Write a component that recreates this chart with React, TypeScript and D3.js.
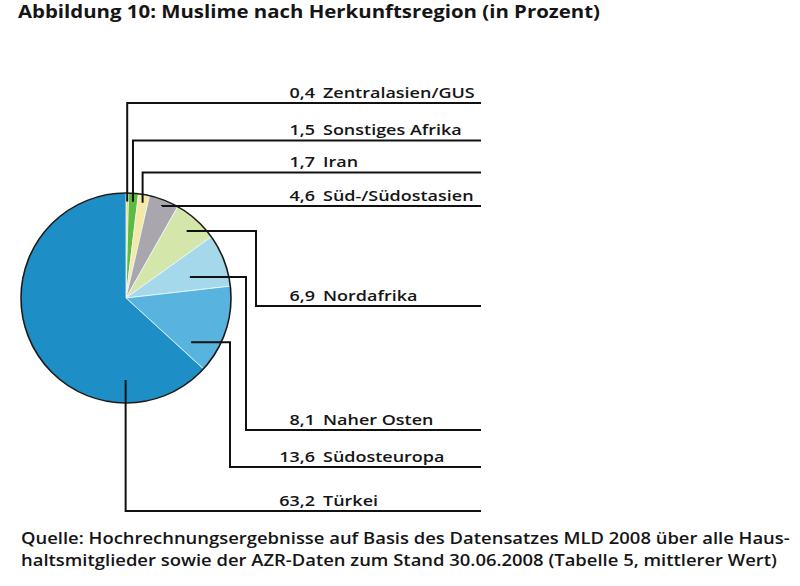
import React from "react";
import * as d3 from "d3";

// ---- data ----
const categories = [
  "Zentralasien/GUS",
  "Sonstiges Afrika",
  "Iran",
  "Süd-/Südostasien",
  "Nordafrika",
  "Naher Osten",
  "Südosteuropa",
  "Türkei",
];
const values = [0.4, 1.5, 1.7, 4.6, 6.9, 8.1, 13.6, 63.2];
const valueLabels = ["0,4", "1,5", "1,7", "4,6", "6,9", "8,1", "13,6", "63,2"];
const colors = [
  "#e6d444",
  "#5fba40",
  "#f5e9a3",
  "#aaa6ae",
  "#d5e6ab",
  "#a6d8ec",
  "#58b4de",
  "#1d8ec6",
];

const title = "Abbildung 10: Muslime nach Herkunftsregion (in Prozent)";
const sourceLines = [
  "Quelle: Hochrechnungsergebnisse auf Basis des Datensatzes MLD 2008 über alle Haus-",
  "haltsmitglieder sowie der AZR-Daten zum Stand 30.06.2008 (Tabelle 5, mittlerer Wert)",
];

// ---- layout (positions only) ----
const W = 800;
const H = 586;
const cx = 126;
const cy = 298;
const R = 105;
const lineEndX = 481;
const numX = 315;
const nameX = 323;
const labelLineY = [103, 140.5, 172.5, 206, 306, 430, 467, 511];
const anchorFrac = [0.5, 0.5, 0.5, 0.51, 0.51, 0.6, 0.83, 0.21];
const anchorRad = [0.92, 0.92, 0.92, 0.94, 0.86, 0.64, 0.75, 0.78];
const elbowX: (number | null)[] = [null, null, null, null, 256, 246, 230, null];

const FONT = "'Open Sans', 'Noto Sans', sans-serif";

function SText(props: {
  x: number;
  y: number;
  sx: number;
  anchor?: string;
  size: number;
  weight?: number;
  children: React.ReactNode;
}) {
  const { x, y, sx, anchor, size, weight, children } = props;
  return (
    <text
      transform={`translate(${x},${y}) scale(${sx},1)`}
      textAnchor={anchor || "start"}
      fontFamily={FONT}
      fontSize={size}
      fontWeight={weight || 400}
      fill="#151515"
    >
      {children}
    </text>
  );
}

export default function App() {
  const pie = d3
    .pie<number>()
    .sort(null)
    .value((d) => d)
    .startAngle(0)
    .endAngle(2 * Math.PI);
  const arcs = pie(values);
  const arc = d3.arc<d3.PieArcDatum<number>>().innerRadius(0).outerRadius(R);

  const leaders = arcs.map((a, i) => {
    const ang = a.startAngle + (a.endAngle - a.startAngle) * anchorFrac[i];
    const r = R * anchorRad[i];
    const ax = cx + r * Math.sin(ang);
    const ay = cy - r * Math.cos(ang);
    const p = d3.path();
    p.moveTo(ax, ay);
    const ex = elbowX[i];
    if (ex !== null) {
      p.lineTo(ex, ay);
      p.lineTo(ex, labelLineY[i]);
    } else {
      p.lineTo(ax, labelLineY[i]);
    }
    p.lineTo(lineEndX, labelLineY[i]);
    return p.toString();
  });

  return (
    <svg
      width={W}
      height={H}
      style={{ position: "absolute", left: 0, top: 0, background: "#fff" }}
    >
      <SText x={18} y={17.5} sx={1.2} size={17} weight={700}>
        {title}
      </SText>

      <g transform={`translate(${cx},${cy})`}>
        {arcs.map((a, i) => (
          <path
            key={categories[i]}
            d={arc(a) || ""}
            fill={colors[i]}
            stroke="#eef7fb"
            strokeWidth={0.8}
          />
        ))}
        <circle r={R} fill="none" stroke="#1a1a1a" strokeWidth={1.6} />
      </g>

      {leaders.map((d, i) => (
        <path
          key={"l" + i}
          d={d}
          fill="none"
          stroke="#111"
          strokeWidth={2}
        />
      ))}

      {categories.map((c, i) => (
        <g key={"t" + i}>
          <SText
            x={numX}
            y={labelLineY[i] - 5.5}
            sx={1.24}
            anchor="end"
            size={14.5}
            weight={600}
          >
            {valueLabels[i]}
          </SText>
          <SText x={nameX} y={labelLineY[i] - 5.5} sx={1.24} size={14.5} weight={600}>
            {c}
          </SText>
        </g>
      ))}

      {sourceLines.map((s, i) => (
        <SText key={"s" + i} x={21} y={544 + i * 21.5} sx={1.19} size={15.5} weight={600}>
          {s}
        </SText>
      ))}
    </svg>
  );
}
